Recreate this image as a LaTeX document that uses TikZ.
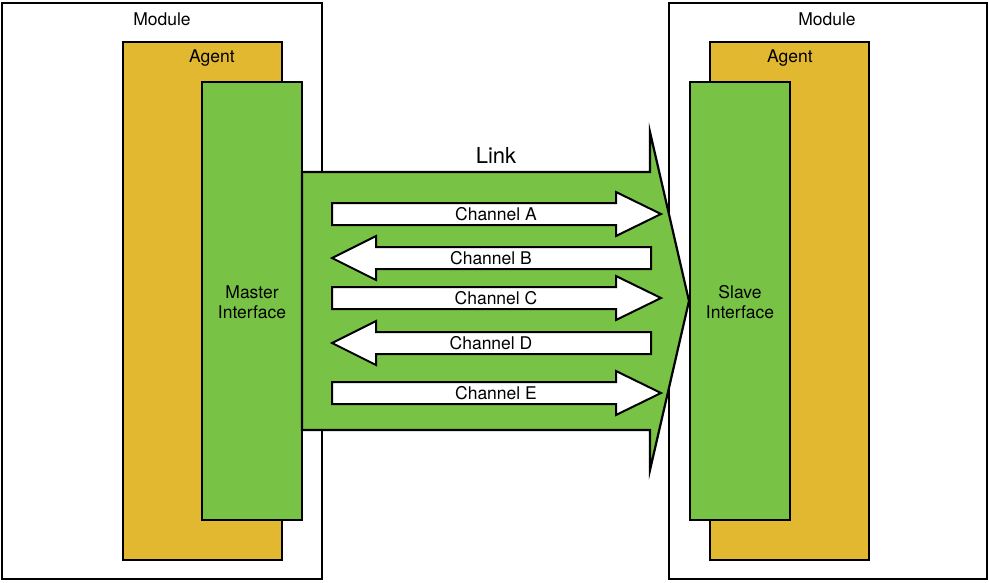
\documentclass[tikz,border=0pt]{standalone}
\usepackage{fontspec}
\setmainfont{TeX Gyre Heros}
\definecolor{ifcol}{RGB}{120,195,69}
\definecolor{agentcol}{RGB}{226,184,48}
\begin{document}
\begin{tikzpicture}[x=1pt,y=-1pt,line join=miter]
\useasboundingbox (0,0) rectangle (989,582);
\tikzset{
  box/.style={draw=black, line width=2.5pt, anchor=north west, outer sep=0pt, inner sep=0pt},
  modbox/.style={box, fill=white},
  agentbox/.style={box, fill=agentcol},
  ifbox/.style={box, fill=ifcol},
  linkshape/.style={draw=black, fill=ifcol, line width=2.2pt},
  chan/.style={draw=black, fill=white, line width=2pt},
  lbl/.style={font=\fontsize{17.5}{20}\selectfont, align=center, inner sep=0pt},
  biglbl/.style={font=\fontsize{22}{26}\selectfont, inner sep=0pt},
}
% left side
\node[modbox, minimum width=320pt, minimum height=576pt] (modL) at (2,3) {};
\node[agentbox, minimum width=159pt, minimum height=518pt] (agL) at (123,42) {};
\node[ifbox, minimum width=100pt, minimum height=438pt] (ifL) at (202,82) {};
% right side
\node[modbox, minimum width=318pt, minimum height=576pt] (modR) at (669,3) {};
\node[agentbox, minimum width=159pt, minimum height=518pt] (agR) at (710,42) {};
\node[ifbox, minimum width=100pt, minimum height=438pt] (ifR) at (690,82) {};
% link arrow
\draw[linkshape] (302,172) -- (650,172) -- (650,132) -- (689,301) -- (650,470) -- (650,430) -- (302,430) -- cycle;
% channel arrows
\foreach \c in {214,298,393}{
  \draw[chan] (332,\c-11) -- (616,\c-11) -- (616,\c-22) -- (661,\c) -- (616,\c+22) -- (616,\c+11) -- (332,\c+11) -- cycle;
}
\foreach \c in {258,343}{
  \draw[chan] (332,\c) -- (376,\c-22) -- (376,\c-11) -- (651,\c-11) -- (651,\c+11) -- (376,\c+11) -- (376,\c+22) -- cycle;
}
% labels
\node[lbl] (tModL) at (162,19) {Module};
\node[lbl] (tModR) at (827,19) {Module};
\node[lbl] (tAgL) at (212,58) {Agent};
\node[lbl] (tAgR) at (790,58) {Agent};
\node[lbl] (tIfL) at (252,302) {Master\\Interface};
\node[lbl] (tIfR) at (740,302) {Slave\\Interface};
\node[biglbl] (tLink) at (496,155) {Link};
\node[lbl] (tA) at (496,214) {Channel A};
\node[lbl] (tB) at (491,258) {Channel B};
\node[lbl] (tC) at (496,298) {Channel C};
\node[lbl] (tD) at (491,343) {Channel D};
\node[lbl] (tE) at (496,393) {Channel E};
\end{tikzpicture}
\end{document}
